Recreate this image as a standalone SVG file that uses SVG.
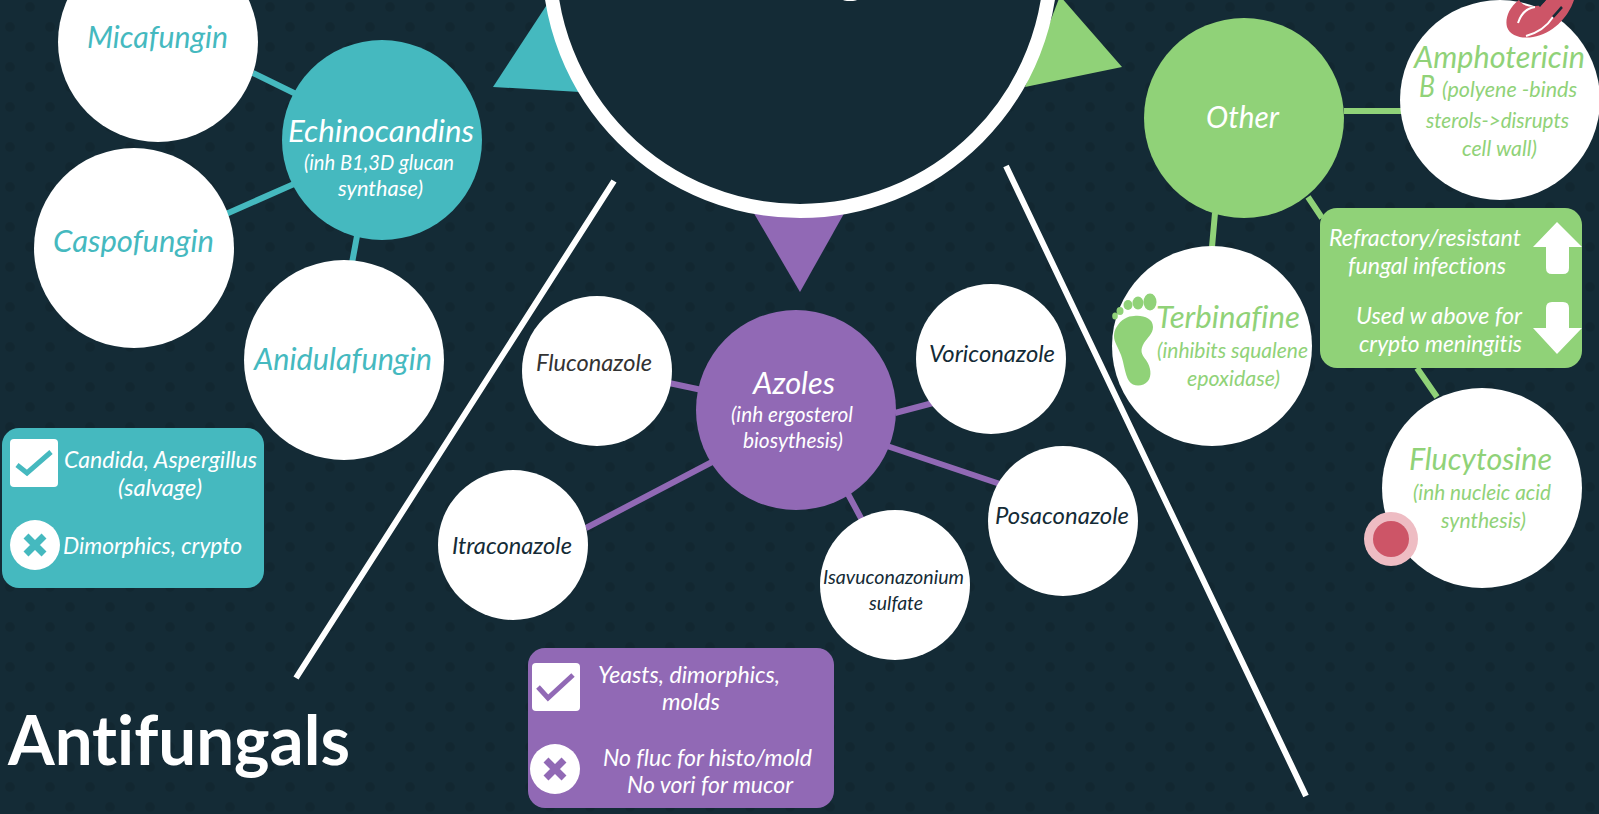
<svg xmlns="http://www.w3.org/2000/svg" width="1599" height="814" viewBox="0 0 1599 814">
<style>
text{font-family:"Lato","Open Sans","Liberation Sans",sans-serif;font-style:italic;font-variant-ligatures:none}
.w{fill:#fff}.d{fill:#142b36}.t{fill:#45b9bf}.g{fill:#90d278}.p{fill:#9169b5}
.cw{fill:#fff}
.lt{stroke:#45b9bf;stroke-width:6;fill:none}.lg{stroke:#90d278;stroke-width:6;fill:none}.lp{stroke:#9169b5;stroke-width:6;fill:none}
.s32{font-size:31px}.s24{font-size:24px}.s22{font-size:22px}.s20{font-size:20px}
</style>
<defs>
<pattern id="dots" width="40" height="40" patternUnits="userSpaceOnUse"><circle cx="10" cy="27" r="5" fill="#12262f"/><circle cx="30" cy="7" r="5" fill="#12262f"/></pattern>
</defs>
<rect width="1599" height="814" fill="#142b36"/>
<rect width="1599" height="814" fill="url(#dots)" opacity="0.75"/>
<g id="connectors">
<path class="lt" d="M253 73L296 94M226 214L294 184M352 263L357 236"/>
<path class="lp" d="M669 383L702 390M895 413L933 403M887 446L1000 484M848 494L862 520M586 528L714 461"/>
<path class="lg" d="M1344 111H1402M1215 213L1212 247M1308 197L1322 218M1417 368L1437 397"/>
<path stroke="#fff" stroke-width="6" fill="none" d="M614 181L296 678M1006 166L1306 796"/>
</g>
<g id="hub">
<polygon class="t" points="493,87 548,3 580,92"/>
<polygon class="g" points="1122,67 1060,-4 1025,87"/>
<polygon class="p" points="800,292 752,210 846,210"/>
<circle cx="800" cy="-40" r="251" fill="#142b36" stroke="#fff" stroke-width="14"/>
<ellipse cx="850" cy="-1" rx="8" ry="2" fill="#fff"/>
</g>
<g id="micafungin"><circle class="w" cx="158" cy="42" r="100"/><text class="t s32" x="87" y="48" textLength="141" lengthAdjust="spacingAndGlyphs">Micafungin</text></g>
<g id="caspofungin"><circle class="w" cx="134" cy="248" r="100"/><text class="t s32" x="53" y="252" textLength="161" lengthAdjust="spacingAndGlyphs">Caspofungin</text></g>
<g id="anidulafungin"><circle class="w" cx="344" cy="360" r="100"/><text class="t s32" x="254" y="370" textLength="178" lengthAdjust="spacingAndGlyphs">Anidulafungin</text></g>
<g id="echinocandins"><circle class="t" cx="382" cy="140" r="100"/>
<text class="cw s32" x="288" y="142" textLength="186" lengthAdjust="spacingAndGlyphs">Echinocandins</text>
<text class="cw s22" x="304" y="170" textLength="150" lengthAdjust="spacingAndGlyphs">(inh B1,3D glucan</text>
<text class="cw s22" x="338" y="196" textLength="85" lengthAdjust="spacingAndGlyphs">synthase)</text></g>
<g id="teal-box"><rect class="t" x="2" y="428" width="262" height="160" rx="17"/>
<rect class="w" x="10" y="439" width="48" height="48" rx="4"/><path stroke="#45b9bf" stroke-width="5" fill="none" d="M17 465L27 473L51 452"/>
<circle class="w" cx="35" cy="545" r="25"/><path stroke="#45b9bf" stroke-width="7" d="M26 536L44 554M44 536L26 554"/>
<text class="cw s24" x="64" y="468" textLength="193" lengthAdjust="spacingAndGlyphs">Candida, Aspergillus</text>
<text class="cw s24" x="118" y="496" textLength="84" lengthAdjust="spacingAndGlyphs">(salvage)</text>
<text class="cw s24" x="63" y="554" textLength="179" lengthAdjust="spacingAndGlyphs">Dimorphics, crypto</text></g>
<g id="azoles"><circle class="p" cx="796" cy="410" r="100"/>
<text class="cw s32" x="753" y="394" textLength="82" lengthAdjust="spacingAndGlyphs">Azoles</text>
<text class="cw s22" x="731" y="422" textLength="122" lengthAdjust="spacingAndGlyphs">(inh ergosterol</text>
<text class="cw s22" x="743" y="448" textLength="100" lengthAdjust="spacingAndGlyphs">biosythesis)</text></g>
<g id="fluconazole"><circle class="w" cx="597" cy="371" r="75"/><text fill="#333" class="s24" x="536" y="371" textLength="116" lengthAdjust="spacingAndGlyphs">Fluconazole</text></g>
<g id="voriconazole"><circle class="w" cx="991" cy="359" r="75"/><text class="d s24" x="929" y="362" textLength="126" lengthAdjust="spacingAndGlyphs">Voriconazole</text></g>
<g id="posaconazole"><circle class="w" cx="1063" cy="521" r="75"/><text class="d s24" x="995" y="524" textLength="134" lengthAdjust="spacingAndGlyphs">Posaconazole</text></g>
<g id="isavuconazonium"><circle class="w" cx="895" cy="585" r="75"/>
<text class="d s20" x="823" y="584" textLength="141" lengthAdjust="spacingAndGlyphs">Isavuconazonium</text>
<text class="d s20" x="869" y="610" textLength="54" lengthAdjust="spacingAndGlyphs">sulfate</text></g>
<g id="itraconazole"><circle class="w" cx="513" cy="545" r="75"/><text class="d s24" x="452" y="554" textLength="120" lengthAdjust="spacingAndGlyphs">Itraconazole</text></g>
<g id="purple-box"><rect class="p" x="528" y="648" width="306" height="160" rx="17"/>
<rect class="w" x="532" y="663" width="48" height="48" rx="4"/><path stroke="#9169b5" stroke-width="5" fill="none" d="M538 687L548 698L573 675"/>
<circle class="w" cx="555" cy="769" r="25"/><path stroke="#9169b5" stroke-width="7" d="M546 760L564 778M564 760L546 778"/>
<text class="cw s24" x="598" y="683" textLength="182" lengthAdjust="spacingAndGlyphs">Yeasts, dimorphics,</text>
<text class="cw s24" x="662" y="710" textLength="58" lengthAdjust="spacingAndGlyphs">molds</text>
<text class="cw s24" x="603" y="766" textLength="209" lengthAdjust="spacingAndGlyphs">No fluc for histo/mold</text>
<text class="cw s24" x="627" y="793" textLength="166" lengthAdjust="spacingAndGlyphs">No vori for mucor</text></g>
<g id="other"><circle class="g" cx="1244" cy="118" r="100"/><text class="cw s32" x="1206" y="128" textLength="73" lengthAdjust="spacingAndGlyphs">Other</text></g>
<g id="amphotericin"><circle class="w" cx="1500" cy="100" r="100"/>
<text class="g s32" x="1414" y="68" textLength="171" lengthAdjust="spacingAndGlyphs">Amphotericin</text>
<text class="g s32" x="1419" y="97" textLength="16" lengthAdjust="spacingAndGlyphs">B</text>
<text class="g s22" x="1442" y="97" textLength="135" lengthAdjust="spacingAndGlyphs">(polyene -binds</text>
<text class="g s22" x="1426" y="128" textLength="143" lengthAdjust="spacingAndGlyphs">sterols-&gt;disrupts</text>
<text class="g s22" x="1462" y="156" textLength="75" lengthAdjust="spacingAndGlyphs">cell wall)</text>
<path fill="#cd5567" d="M1519 0C1508 8 1505 20 1507 27C1510 36 1522 39 1533 37C1552 34 1568 18 1574 0H1546C1543 4 1539 6 1535 6C1526 8 1521 3 1519 0Z"/>
<path fill="none" stroke="#fff" stroke-width="2" d="M1518 23C1521 14 1527 8 1535 7"/>
<path fill="none" stroke="#fff" stroke-width="2" d="M1526 36C1537 33 1546 28 1553 17"/>
<path fill="#142b36" d="M1533 0H1546L1540 7Z"/>
<path fill="none" stroke="#142b36" stroke-width="2.5" d="M1553 17C1557 13 1560 9 1562 7"/>
</g>
<g id="terbinafine"><circle class="w" cx="1212" cy="346" r="100"/>
<text class="g s32" x="1156" y="328" textLength="144" lengthAdjust="spacingAndGlyphs">Terbinafine</text>
<text class="g s22" x="1157" y="358" textLength="151" lengthAdjust="spacingAndGlyphs">(inhibits squalene</text>
<text class="g s22" x="1187" y="386" textLength="93" lengthAdjust="spacingAndGlyphs">epoxidase)</text>
<path class="g" d="M1116 328C1121 319 1128 316 1134 316C1143 315 1153 318 1153 327C1153 334 1147 338 1144 343C1140 350 1141 354 1146 360C1151 367 1152 376 1148 381C1143 387 1133 387 1129 381C1125 375 1124 363 1121 355C1118 347 1114 342 1114 336C1114 332 1115 330 1116 328Z"/>
<ellipse class="g" cx="1150" cy="302" rx="6.5" ry="8.5"/><ellipse class="g" cx="1138" cy="303" rx="5.5" ry="6.5"/><ellipse class="g" cx="1128" cy="305" rx="4.5" ry="5"/><ellipse class="g" cx="1120" cy="311" rx="3.5" ry="4"/><ellipse class="g" cx="1115" cy="316" rx="2.8" ry="3.5"/></g>
<g id="green-box"><rect class="g" x="1320" y="208" width="262" height="160" rx="17"/>
<text class="cw s24" x="1329" y="246" textLength="192" lengthAdjust="spacingAndGlyphs">Refractory/resistant</text>
<text class="cw s24" x="1348" y="274" textLength="158" lengthAdjust="spacingAndGlyphs">fungal infections</text>
<text class="cw s24" x="1356" y="324" textLength="166" lengthAdjust="spacingAndGlyphs">Used w above for</text>
<text class="cw s24" x="1359" y="352" textLength="163" lengthAdjust="spacingAndGlyphs">crypto meningitis</text>
<path class="w" d="M1557 222L1582 247H1569V268Q1569 274 1563 274H1552Q1546 274 1546 268V247H1533Z"/>
<path class="w" d="M1557 354L1582 328H1569V308Q1569 302 1563 302H1552Q1546 302 1546 308V328H1533Z"/></g>
<g id="flucytosine"><circle class="w" cx="1482" cy="488" r="100"/>
<text class="g s32" x="1409" y="470" textLength="143" lengthAdjust="spacingAndGlyphs">Flucytosine</text>
<text class="g s22" x="1413" y="500" textLength="138" lengthAdjust="spacingAndGlyphs">(inh nucleic acid</text>
<text class="g s22" x="1441" y="528" textLength="85" lengthAdjust="spacingAndGlyphs">synthesis)</text>
<circle cx="1391" cy="539" r="27" fill="#eebcc3"/><circle cx="1391" cy="539" r="18" fill="#cd5567"/></g>
<g id="title"><text x="8" y="765" fill="#fff" font-size="68" font-weight="700" style="font-style:normal" textLength="342" lengthAdjust="spacingAndGlyphs">Antifungals</text></g>
</svg>
